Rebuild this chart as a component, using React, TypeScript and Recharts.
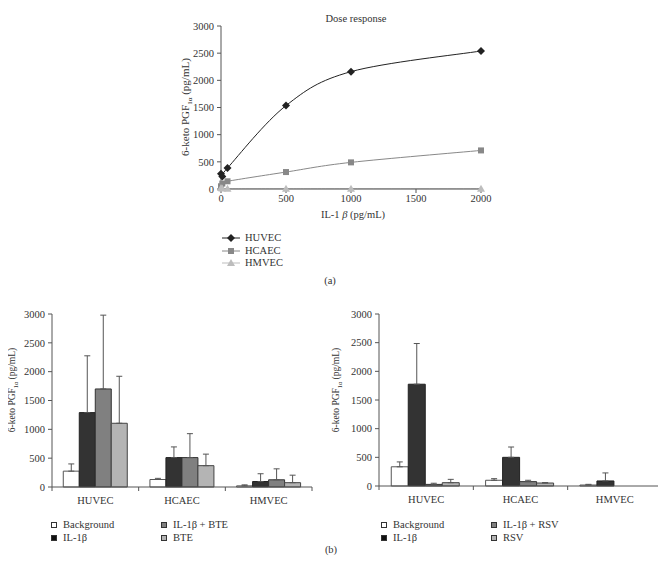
import React from 'react'
import { LineChart, Line, BarChart, Bar, XAxis, YAxis, ErrorBar } from 'recharts'

const FONT = '"Liberation Serif", "DejaVu Serif", serif'
const TEXT = '#333'
const AXIS = '#555'

// (a) dose response
const doses = [0, 10, 50, 500, 1000, 2000]
const huvecDose = [280, 230, 386, 1535, 2160, 2540]
const hcaecDose = [50, 100, 142, 312, 490, 710]
const hmvecDose = [20, 8, 5, 5, 5, 5]
const doseTicks = [0, 500, 1000, 1500, 2000]
const pgTicks = [0, 500, 1000, 1500, 2000, 2500, 3000]

// (b) cell types
const cells = ['HUVEC', 'HCAEC', 'HMVEC']

// left panel: BTE
const bteNames = ['Background', 'IL-1β', 'IL-1β + BTE', 'BTE']
const bgL = [275, 130, 20]
const bgLsd = [125, 20, 17]
const ilL = [1290, 510, 95]
const ilLsd = [985, 185, 135]
const ilBteL = [1700, 510, 125]
const ilBteLsd = [1280, 415, 190]
const bteL = [1105, 370, 75]
const bteLsd = [815, 200, 130]

// right panel: RSV
const rsvNames = ['Background', 'IL-1β', 'IL-1β + RSV', 'RSV']
const bgR = [335, 100, 17]
const bgRsd = [85, 28, 12]
const ilR = [1775, 500, 88]
const ilRsd = [710, 180, 140]
const ilRsvR = [28, 76, 0]
const ilRsvRsd = [20, 24, 0]
const rsvR = [58, 52, 0]
const rsvRsd = [58, 8, 0]

const barFills = ['#ffffff', '#333333', '#808080', '#b4b4b4']
const barStrokes = ['#555555', '#222222', '#333333', '#444444']

const lineData = doses.map((d, i) => ({
  dose: d,
  huvec: huvecDose[i],
  hcaec: hcaecDose[i],
  hmvec: hmvecDose[i],
}))

const makeRows = (series: number[][], sds: number[][]) =>
  cells.map((c, i) => {
    const row: any = { cell: c }
    series.forEach((s, k) => {
      row['v' + k] = s[i]
      row['e' + k] = [0, sds[k][i]]
    })
    return row
  })

const leftRows = makeRows([bgL, ilL, ilBteL, bteL], [bgLsd, ilLsd, ilBteLsd, bteLsd])
const rightRows = makeRows([bgR, ilR, ilRsvR, rsvR], [bgRsd, ilRsd, ilRsvRsd, rsvRsd])

// excel-like smoothed line (catmull-rom through the points)
const smooth = (context: any) => {
  let pts: number[][] = []
  return {
    areaStart() {},
    areaEnd() {},
    lineStart() {
      pts = []
    },
    point(x: number, y: number) {
      pts.push([+x, +y])
    },
    lineEnd() {
      if (!pts.length) return
      context.moveTo(pts[0][0], pts[0][1])
      const t = 1 / 6
      for (let i = 0; i < pts.length - 1; i++) {
        const p0 = pts[Math.max(i - 1, 0)]
        const p1 = pts[i]
        const p2 = pts[i + 1]
        const p3 = pts[Math.min(i + 2, pts.length - 1)]
        context.bezierCurveTo(
          p1[0] + (p2[0] - p0[0]) * t,
          p1[1] + (p2[1] - p0[1]) * t,
          p2[0] - (p3[0] - p1[0]) * t,
          p2[1] - (p3[1] - p1[1]) * t,
          p2[0],
          p2[1]
        )
      }
    },
  }
}

const Diamond = (p: any) => {
  const { cx, cy, fill } = p
  if (cx == null) return null
  return <path d={`M${cx},${cy - 4}L${cx + 4},${cy}L${cx},${cy + 4}L${cx - 4},${cy}Z`} fill={fill} />
}
const Square = (p: any) => {
  const { cx, cy, fill } = p
  if (cx == null) return null
  return <rect x={cx - 3} y={cy - 3} width={6} height={6} fill={fill} />
}
const Triangle = (p: any) => {
  const { cx, cy, fill } = p
  if (cx == null) return null
  return <path d={`M${cx},${cy - 4}L${cx + 4},${cy + 3}L${cx - 4},${cy + 3}Z`} fill={fill} />
}

const lineSeries = [
  { key: 'huvec', name: 'HUVEC', color: '#222222', dot: Diamond },
  { key: 'hcaec', name: 'HCAEC', color: '#888888', dot: Square },
  { key: 'hmvec', name: 'HMVEC', color: '#bdbdbd', dot: Triangle },
]

const tickStyle = { fontFamily: FONT, fontSize: 10.5, fill: TEXT }

const CellTick = (band: number) => (props: any) => {
  const { x, y, payload, index } = props
  return (
    <g>
      {index === 0 && <line x1={x - band / 2} y1={y} x2={x - band / 2} y2={y + 4} stroke={AXIS} />}
      <line x1={x + band / 2} y1={y} x2={x + band / 2} y2={y + 4} stroke={AXIS} />
      <text x={x} y={y + 17} textAnchor="middle" style={tickStyle}>{payload.value}</text>
    </g>
  )
}

const abs = (left: number, top: number, extra: any = {}) => ({
  position: 'absolute' as const,
  left,
  top,
  fontFamily: FONT,
  color: TEXT,
  fontSize: 10.5,
  whiteSpace: 'nowrap' as const,
  lineHeight: 1,
  ...extra,
})

const YTitle = ({ x, y, size }: { x: number; y: number; size: number }) => (
  <div style={abs(x, y, { fontSize: size, transform: 'translate(-50%, -50%) rotate(-90deg)' })}>
    6-keto PGF<sub style={{ fontSize: size * 0.65, verticalAlign: 'sub', lineHeight: 0 }}>1α</sub> (pg/mL)
  </div>
)

const BarLegend = ({ left, names }: { left: number; names: string[] }) => {
  const cols = [0, 0, 1, 1]
  const rows = [0, 1, 0, 1]
  return (
    <>
      {names.map((n, i) => (
        <div key={n} style={abs(left + cols[i] * 110, 520 + rows[i] * 13, { display: 'flex', alignItems: 'center' })}>
          <span
            style={{
              display: 'inline-block',
              width: 4,
              height: 4,
              background: barFills[i] === '#333333' ? '#111' : barFills[i],
              border: '1px solid #333',
              marginRight: 6,
            }}
          />
          {n}
        </div>
      ))}
    </>
  )
}

const BarPanel = ({ rows, band, width, margin }: any) => (
  <BarChart width={width} height={210} data={rows} margin={margin} barCategoryGap="13%" barGap={0}>
    <XAxis
      dataKey="cell"
      axisLine={{ stroke: AXIS }}
      tickLine={false}
      tickSize={0}
      tickMargin={0}
      height={23}
      tick={CellTick(band)}
      interval={0}
    />
    <YAxis
      domain={[0, 3000]}
      ticks={pgTicks}
      width={40}
      axisLine={{ stroke: AXIS }}
      tickLine={{ stroke: AXIS }}
      tickSize={4}
      tickMargin={3}
      tick={tickStyle}
      interval={0}
    />
    {[0, 1, 2, 3].map(k => (
      <Bar key={k} dataKey={'v' + k} fill={barFills[k]} stroke={barStrokes[k]} strokeWidth={1} isAnimationActive={false}>
        <ErrorBar dataKey={'e' + k} direction="y" width={3} stroke="#555" strokeWidth={1} />
      </Bar>
    ))}
  </BarChart>
)

export default function App() {
  return (
    <div style={{ position: 'relative', width: 666, height: 570, background: '#fff', margin: -8 }}>
      <div style={abs(356, 14, { transform: 'translateX(-50%)' })}>Dose response</div>
      <YTitle x={185} y={107} size={11} />
      <div style={{ position: 'absolute', left: 0, top: 0 }}>
        <LineChart width={500} height={215} data={lineData} margin={{ top: 26, right: 19, left: 161, bottom: 0 }}>
          <XAxis
            dataKey="dose"
            type="number"
            domain={[0, 2000]}
            ticks={doseTicks}
            height={26}
            axisLine={{ stroke: AXIS }}
            tickLine={{ stroke: AXIS }}
            tickSize={4}
            tickMargin={2}
            tick={tickStyle}
            interval={0}
          />
          <YAxis
            domain={[0, 3000]}
            ticks={pgTicks}
            width={60}
            axisLine={{ stroke: AXIS }}
            tickLine={{ stroke: AXIS }}
            tickSize={4}
            tickMargin={3}
            tick={tickStyle}
            interval={0}
          />
          {lineSeries.map(s => (
            <Line
              key={s.key}
              dataKey={s.key}
              name={s.name}
              type={smooth as any}
              stroke={s.color}
              strokeWidth={1}
              dot={<s.dot fill={s.color} />}
              isAnimationActive={false}
            />
          ))}
        </LineChart>
      </div>
      <div style={abs(353, 210, { transform: 'translateX(-50%)' })}>
        IL-1 <i>β</i> (pg/mL)
      </div>
      {lineSeries.map((s, i) => (
        <div key={s.key} style={abs(222, 233 + i * 12.5, { display: 'flex', alignItems: 'center' })}>
          <svg width={18} height={10} style={{ marginRight: 5 }}>
            <line x1={0} y1={5} x2={18} y2={5} stroke={s.color} />
            <s.dot cx={9} cy={5} fill={s.color} />
          </svg>
          {s.name}
        </div>
      ))}
      <div style={abs(330, 276, { transform: 'translateX(-50%)' })}>(a)</div>

      <YTitle x={13} y={390} size={9.5} />
      <div style={{ position: 'absolute', left: 0, top: 300 }}>
        <BarPanel rows={leftRows} band={260 / 3} width={330} margin={{ top: 14, right: 18, left: 12, bottom: 0 }} />
      </div>
      <YTitle x={337} y={390} size={9.5} />
      <div style={{ position: 'absolute', left: 330, top: 300 }}>
        <BarPanel rows={rightRows} band={283 / 3} width={336} margin={{ top: 14, right: 4, left: 9, bottom: 1 }} />
      </div>
      <BarLegend left={51} names={bteNames} />
      <BarLegend left={381} names={rsvNames} />
      <div style={abs(331, 545, { transform: 'translateX(-50%)' })}>(b)</div>
    </div>
  )
}
